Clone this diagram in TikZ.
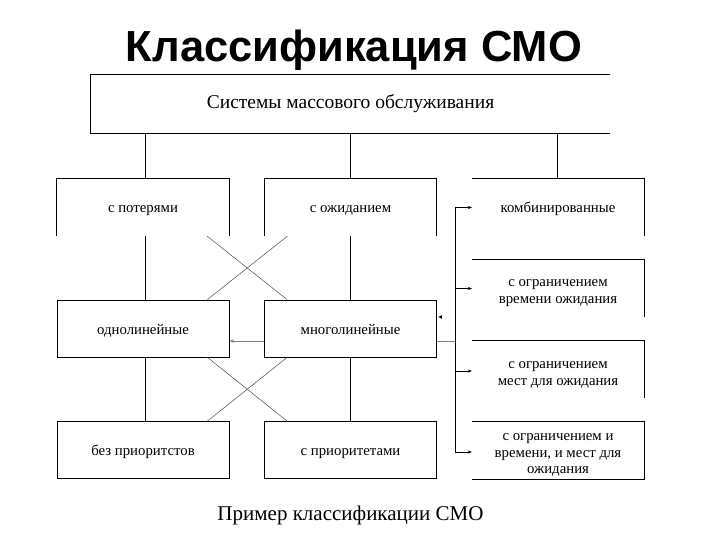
\documentclass[tikz,border=0pt]{standalone}
\usepackage{fontspec}
\setmainfont{Liberation Serif}
\newfontfamily\titlefont{Liberation Sans}
\usetikzlibrary{arrows.meta}
\begin{document}
\begin{tikzpicture}[x=1pt,y=-1pt,
  lbl/.style={inner sep=0pt,align=center,font=\fontsize{14.8}{16.5}\selectfont},
  cell/.style={lbl,minimum width=172pt,minimum height=57pt},
  one/.style={cell,text height=13pt,text depth=2pt},
  edge/.style={line width=0.8pt,black},
  thin/.style={line width=0.5pt,black!70},
  grayln/.style={line width=1pt,black!50},
  arr/.style={line width=0.8pt,-{Stealth[length=4pt,width=3.2pt]}}]
\useasboundingbox (0,0) rectangle (720,540);
\fill[white] (0,0) rectangle (720,540);
% title
\node[inner sep=0pt,anchor=base,font=\titlefont\bfseries\fontsize{43.5}{43.5}\selectfont] (title) at (354,62) {Классификация СМО};
% top box
\node[inner sep=0pt,minimum width=519pt,minimum height=58pt,text height=13pt,text depth=4pt,font=\fontsize{19.5}{21}\selectfont] (top) at (350.5,104) {Системы массового обслуживания};
\draw[edge] (top.north east) -- (top.north west) -- (top.south west) -- (top.south east);
% row 2
\node[one] (pot) at (143,207.5) {с потерями};
\node[one] (ozh) at (350.5,207.5) {с ожиданием};
\node[one] (kmb) at (558,207.5) {комбинированные};
\draw[edge] (pot.south west) -- (pot.north west) -- (pot.north east) -- (pot.south east);
\draw[edge] (ozh.south west) -- (ozh.north west) -- (ozh.north east) -- (ozh.south east);
\draw[edge] (kmb.north west) -- (kmb.north east) -- (kmb.south east);
% right column
\node[cell] (vrm) at (558,288.5) {\rule{0pt}{16pt}с ограничением\\времени ожидания};
\node[cell] (mst) at (558,369.5) {\rule{0pt}{18pt}с ограничением\\мест для ожидания};
\node[cell] (obe) at (558,450.5) {\rule{0pt}{16pt}с ограничением и\\времени, и мест для\\ожидания};
\draw[edge] (vrm.north west) -- (vrm.north east) -- (vrm.south east);
\draw[edge] (mst.north west) -- (mst.north east) -- (mst.south east);
\draw[edge] (obe.north west) -- (obe.north east) -- (obe.south east) -- (obe.south west);
% row 3
\node[one,draw,line width=0.8pt] (odn) at (143,328.5) {однолинейные};
\node[one,draw,line width=0.8pt] (mno) at (350.5,328.5) {многолинейные};
% row 4
\node[one,draw,line width=0.8pt] (bez) at (143,450) {без приоритстов};
\node[one,draw,line width=0.8pt] (spr) at (350.5,450) {с приоритетами};
% verticals from top box
\draw[edge] ([xshift=2pt]pot.north) -- ([xshift=2pt]pot.north |- top.south);
\draw[edge] (ozh.north) -- (ozh.north |- top.south);
\draw[edge] ([xshift=-1pt]kmb.north) -- ([xshift=-1pt]kmb.north |- top.south);
% verticals between rows
\draw[edge] ([xshift=2pt]pot.south) -- ([xshift=2pt]odn.north);
\draw[edge] (ozh.south) -- (mno.north);
\draw[edge] ([xshift=2pt]odn.south) -- ([xshift=2pt]bez.north);
\draw[edge] (mno.south) -- (spr.north);
% crosses
\draw[thin] ([xshift=-22pt]pot.south east) -- ([xshift=23pt]mno.north west);
\draw[thin] ([xshift=23pt]ozh.south west) -- ([xshift=-22pt]odn.north east);
\draw[thin] ([xshift=-22pt]odn.south east) -- ([xshift=23pt]spr.north west);
\draw[thin] ([xshift=23pt]mno.south west) -- ([xshift=-22pt]bez.north east);
% arrow multi -> single
\draw[grayln,-{Stealth[length=4.5pt,width=3.5pt]}] ([yshift=-12.5pt]mno.west) -- ([yshift=-12.5pt]odn.east);
% bus
\coordinate (bus) at (455,0);
\draw[grayln] ([yshift=-12.5pt]mno.east) -- ([yshift=-12.5pt]mno.east -| bus);
\draw[edge] (kmb.west -| bus) -- ([yshift=-1.5pt]obe.west -| bus);
\draw[arr] (kmb.west -| bus) -- (kmb.west);
\draw[arr] (vrm.west -| bus) -- (vrm.west);
\draw[arr] ([yshift=-1.5pt]mst.west -| bus) -- ([yshift=-1.5pt]mst.west);
\draw[arr] ([yshift=-1.5pt]obe.west -| bus) -- ([yshift=-1.5pt]obe.west);
% stray small arrowhead
\fill[black] ([shift={(1.5,-11.5)}]mno.east) -- ++(3.5,-1.8) -- ++(0,3.6) -- cycle;
% caption
\node[inner sep=0pt,font=\fontsize{21}{21}\selectfont] (cap) at (350.5,515) {Пример классификации СМО};
\end{tikzpicture}
\end{document}
